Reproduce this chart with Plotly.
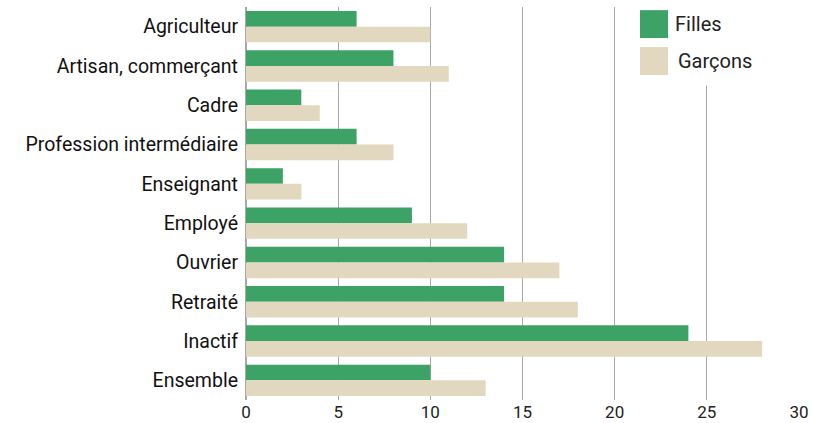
import plotly.graph_objects as go

categories = ["Agriculteur", "Artisan, commerçant", "Cadre", "Profession intermédiaire",
              "Enseignant", "Employé", "Ouvrier", "Retraité", "Inactif", "Ensemble"]
filles = [6, 8, 3, 6, 2, 9, 14, 14, 24, 10]
garcons = [10, 11, 4, 8, 3, 12, 17, 18, 28, 13]

GREEN = "#3ca266"
BEIGE = "#e2d8c0"
GRID = "#a8a8a8"
FONT = "Roboto"

fig = go.Figure()
fig.add_trace(go.Bar(y=categories, x=filles, orientation="h", name="Filles",
                     marker=dict(color=GREEN, line=dict(width=0))))
fig.add_trace(go.Bar(y=categories, x=garcons, orientation="h", name="Garçons",
                     marker=dict(color=BEIGE, line=dict(width=0))))

# legend drawn by hand to get the big square swatches
fig.add_shape(type="rect", xref="paper", yref="paper", x0=0.68, x1=0.985, y0=0.80, y1=1.0,
              fillcolor="white", line=dict(width=0), layer="above")
fig.add_shape(type="rect", xref="paper", yref="paper", x0=0.7125, x1=0.7631, y0=0.921, y1=0.992,
              fillcolor=GREEN, line=dict(width=0), layer="above")
fig.add_shape(type="rect", xref="paper", yref="paper", x0=0.7125, x1=0.7631, y0=0.827, y1=0.898,
              fillcolor=BEIGE, line=dict(width=0), layer="above")
fig.add_annotation(xref="paper", yref="paper", x=0.772, y=0.957, text="Filles", showarrow=False,
                   xanchor="left", yanchor="middle", font=dict(family=FONT, size=20, color="#222"))
fig.add_annotation(xref="paper", yref="paper", x=0.777, y=0.862, text="Garçons", showarrow=False,
                   xanchor="left", yanchor="middle", font=dict(family=FONT, size=20, color="#222"))

fig.update_layout(
    width=813, height=423,
    margin=dict(l=246, r=14, t=7, b=23),
    barmode="group", bargap=0.2, bargroupgap=0,
    showlegend=False,
    plot_bgcolor="white", paper_bgcolor="white",
    font=dict(family=FONT, color="#222"),
    xaxis=dict(range=[0, 30], dtick=5, showgrid=True, gridcolor=GRID, gridwidth=1,
               zeroline=True, zerolinecolor=GRID, zerolinewidth=2, showline=False,
               tickfont=dict(size=17), ticks="", automargin=False, ticklabelstandoff=0),
    yaxis=dict(autorange="reversed", showgrid=False, showline=False, ticks="",
               tickfont=dict(size=19.5, color="#111"), ticklabelstandoff=7, automargin=False),
)

# drop the default 8px body margin so the figure fills the window
fig.write_html("out.html", config={"displayModeBar": False},
               post_script="document.body.style.margin='0';")
